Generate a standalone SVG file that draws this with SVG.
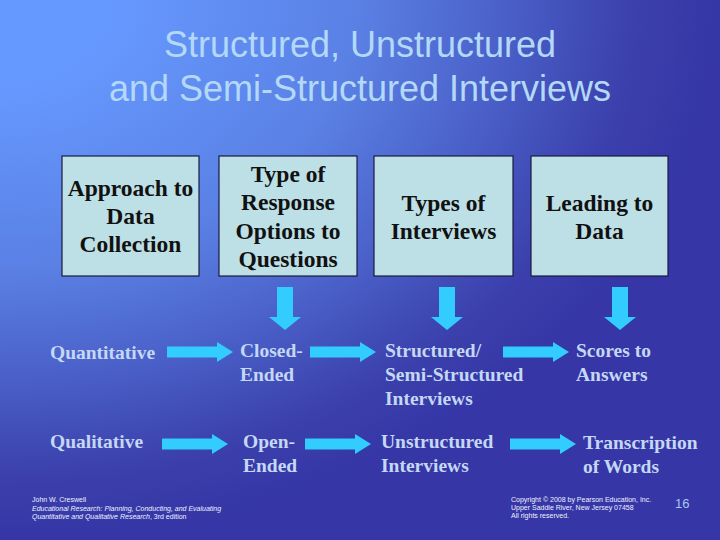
<svg xmlns="http://www.w3.org/2000/svg" width="720" height="540" viewBox="0 0 720 540">
  <defs>
    <radialGradient id="bg" gradientUnits="userSpaceOnUse" cx="0" cy="0" r="720" gradientTransform="scale(1,0.75)">
      <stop offset="0" stop-color="#6699ff"/>
      <stop offset="0.15" stop-color="#6699ff"/>
      <stop offset="0.5" stop-color="#5a80e4"/>
      <stop offset="0.7" stop-color="#4a60c8"/>
      <stop offset="0.88" stop-color="#3b40ac"/>
      <stop offset="1" stop-color="#3636a6"/>
    </radialGradient>
    <path id="harrow" d="M0,-5.5 H50 V-10 L66,0 L50,10 V5.5 H0 Z"/>
    <path id="varrow" d="M-8,0 H8 V30 H16 L0,43 L-16,30 H-8 Z"/>
    <style>
      .title { font-family: "Liberation Sans", Arial, sans-serif; font-size: 36px; fill: #b4d8f8; text-anchor: middle; }
      .box { fill: #bde0e6; stroke: #1a1a40; stroke-width: 1.2; }
      .boxtxt { font-family: "Liberation Serif", "Times New Roman", serif; font-weight: bold; font-size: 23.5px; fill: #111111; text-anchor: middle; }
      .lbl { font-family: "Liberation Serif", "Times New Roman", serif; font-weight: bold; font-size: 19.5px; fill: #c4d8f4; }
      .arrow { fill: #33ccff; }
      .foot { font-family: "Liberation Sans", Arial, sans-serif; font-size: 7px; fill: #eef2ff; }
      .page { font-family: "Liberation Sans", Arial, sans-serif; font-size: 13px; fill: #aac8f0; }
    </style>
  </defs>

  <rect width="720" height="540" fill="url(#bg)"/>

  <g id="title">
    <text class="title" x="360" y="57">Structured, Unstructured</text>
    <text class="title" x="360" y="101">and Semi-Structured Interviews</text>
  </g>

  <g id="box-approach">
    <rect class="box" x="62" y="156" width="137" height="120"/>
    <text class="boxtxt" x="130.5" y="196">Approach to</text>
    <text class="boxtxt" x="130.5" y="224">Data</text>
    <text class="boxtxt" x="130.5" y="252">Collection</text>
  </g>
  <g id="box-response">
    <rect class="box" x="219" y="156" width="138" height="120"/>
    <text class="boxtxt" x="288" y="182">Type of</text>
    <text class="boxtxt" x="288" y="210">Response</text>
    <text class="boxtxt" x="288" y="239">Options to</text>
    <text class="boxtxt" x="288" y="267">Questions</text>
  </g>
  <g id="box-types">
    <rect class="box" x="374" y="156" width="139" height="120"/>
    <text class="boxtxt" x="443.5" y="211">Types of</text>
    <text class="boxtxt" x="443.5" y="239">Interviews</text>
  </g>
  <g id="box-leading">
    <rect class="box" x="531" y="156" width="137" height="120"/>
    <text class="boxtxt" x="599.5" y="211">Leading to</text>
    <text class="boxtxt" x="599.5" y="239">Data</text>
  </g>

  <g id="quantitative"><text class="lbl" x="50" y="359">Quantitative</text></g>
  <g id="qualitative"><text class="lbl" x="50" y="448">Qualitative</text></g>
  <g id="closed-ended">
    <text class="lbl" x="240" y="357">Closed-</text>
    <text class="lbl" x="240" y="381">Ended</text>
  </g>
  <g id="open-ended">
    <text class="lbl" x="243" y="448">Open-</text>
    <text class="lbl" x="243" y="472">Ended</text>
  </g>
  <g id="structured">
    <text class="lbl" x="385" y="357">Structured/</text>
    <text class="lbl" x="385" y="381">Semi-Structured</text>
    <text class="lbl" x="385" y="405">Interviews</text>
  </g>
  <g id="unstructured">
    <text class="lbl" x="381" y="448">Unstructured</text>
    <text class="lbl" x="381" y="472">Interviews</text>
  </g>
  <g id="scores">
    <text class="lbl" x="576" y="357">Scores to</text>
    <text class="lbl" x="576" y="381">Answers</text>
  </g>
  <g id="transcription">
    <text class="lbl" x="583" y="449">Transcription</text>
    <text class="lbl" x="583" y="473">of Words</text>
  </g>

  <g id="connectors" class="arrow">
    <use href="#varrow" x="285" y="287"/>
    <use href="#varrow" x="447" y="287"/>
    <use href="#varrow" x="620" y="287"/>
    <use href="#harrow" x="167" y="352"/>
    <use href="#harrow" x="310" y="352"/>
    <use href="#harrow" x="503" y="352"/>
    <use href="#harrow" x="162" y="444"/>
    <use href="#harrow" x="305" y="444"/>
    <use href="#harrow" x="510" y="444"/>
  </g>

  <g id="footer-left">
    <text class="foot" x="32" y="502">John W. Creswell</text>
    <text class="foot" x="32" y="511" font-style="italic">Educational Research: Planning, Conducting, and Evaluating</text>
    <text class="foot" x="32" y="519"><tspan font-style="italic">Quantitative and Qualitative Research</tspan>, 3rd edition</text>
  </g>
  <g id="footer-right">
    <text class="foot" x="511" y="502">Copyright © 2008 by Pearson Education, Inc.</text>
    <text class="foot" x="511" y="510">Upper Saddle River, New Jersey 07458</text>
    <text class="foot" x="511" y="518">All rights reserved.</text>
  </g>
  <g id="page-number"><text class="page" x="675" y="508">16</text></g>
</svg>
